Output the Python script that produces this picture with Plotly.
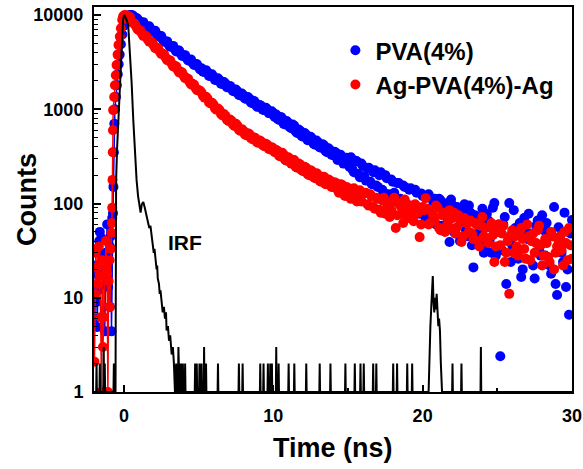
import plotly.graph_objects as go

# ---------------- data ----------------
# uniform TCSPC time channels of the decay part (ns): two interleaved channel sets
t_decay = [round(0.2 * k, 1) for k in range(1, 151)]          # 0.2 ... 30.0
t_extra = [round(0.1 + 0.2 * k, 1) for k in range(1, 150)]    # 0.3 ... 29.9

# PVA(4%) : before-pulse and rising edge
blue_pre_t = [-1.95, -1.9, -1.83, -1.83, -1.78, -1.72, -1.72, -1.65, -1.61, -1.5, -1.45, -1.35,
              -1.28, -1.2, -1.12, -1.05, -0.98, -0.94, -0.94, -0.88, -0.83, -0.78, -0.73,
              -0.70, -0.67, -0.64, -0.60, -0.53, -0.47, -0.41, -0.35, -0.28, -0.20, -0.10, 0.0, 0.1]
blue_pre_c = [6, 22, 18, 9, 4.9, 31, 12, 40, 50, 43, 28, 20,
              4.4, 30, 60, 13, 25, 35, 8, 45, 4.4, 70, 79,
              150, 350, 700, 1000, 1350, 1800, 2350, 3000, 3800, 4900, 6200, 7700, 9000]
# PVA(4%) : decay, channels t_decay
blue_decay = [9850, 10000, 9900, 9350, 8750,
              8300, 7800, 7550, 7050, 6800,
              6300, 6000, 5500, 5250, 4850,
              4650, 4350, 4200, 3900, 3750,
              3480, 3350, 3100, 3020, 2790,
              2720, 2490, 2460, 2250, 2230,
              2050, 2040, 1850, 1870, 1700,
              1700, 1540, 1550, 1400, 1410,
              1290, 1300, 1160, 1180, 1060,
              1080, 980, 1000, 900, 910,
              880, 770, 800, 690, 720,
              630, 670, 560, 590, 510,
              540, 470, 490, 420, 445,
              390, 415, 350, 370, 325,
              345, 295, 310, 270, 290,
              310, 215, 280, 190, 250,
              175, 240, 160, 225, 150,
              215, 130, 185, 120, 170,
              105, 165, 100, 150, 95,
              145, 82, 130, 78, 120,
              70, 125, 62, 112, 98,
              108, 52, 92, 39, 96,
              48, 88, 64, 98, 45,
              80, 21, 72, 40, 88,
              35, 66, 30, 101, 52,
              2.4, 60, 14, 101, 36,
              55, 26, 16.6, 70, 42,
              48, 22, 58, 32, 75,
              28, 50, 18, 92, 10.7,
              44, 24, 13, 6.6, 67]
# PVA(4%) : decay, channels t_extra
blue_extra = [9700, 10000, 9500, 9200, 8400,
              8400, 7400, 7600, 6700, 6800,
              5900, 6000, 5200, 5250, 4600,
              4700, 4100, 4200, 3680, 3750,
              3300, 3370, 2950, 3000, 2650,
              2500, 2600, 2250, 2350, 2050,
              2130, 1870, 1950, 1710, 1770,
              1560, 1620, 1420, 1470, 1300,
              1350, 1180, 1230, 1070, 1110,
              990, 1040, 910, 950, 830,
              790, 830, 700, 750, 650,
              690, 580, 610, 520, 560,
              470, 510, 430, 465, 395,
              425, 360, 385, 330, 355,
              290, 330, 265, 305, 245,
              230, 285, 205, 265, 195,
              235, 170, 215, 155, 200,
              140, 200, 125, 180, 130,
              165, 112, 155, 100, 140,
              92, 140, 85, 128, 80,
              118, 68, 105, 60, 112,
              58, 100, 66, 110, 50,
              92, 40, 85, 52, 95,
              36, 75, 48, 68, 30,
              78, 42, 90, 28, 60,
              32, 72, 40, 24, 85,
              30, 62, 20, 48, 78,
              40, 16, 66, 28, 52,
              62, 22, 45, 14, 56,
              30, 80, 20, 48]

# Ag-PVA(4%)-Ag : before-pulse and rising edge
red_pre_t = [-1.97, -1.92, -1.88, -1.83, -1.75, -1.68, -1.61, -1.55, -1.5, -1.45, -1.4, -1.35,
             -1.28, -1.2, -1.12, -1.07, -1.02, -0.96, -0.94, -0.88, -0.83, -0.80,
             -0.78, -0.76, -0.745, -0.73, -0.72, -0.65, -0.60, -0.54, -0.49, -0.42, -0.36,
             -0.27, -0.20, -0.11, -0.05, 0.05]
red_pre_c = [2.1, 11, 30, 21, 14, 35, 17, 6.2, 1, 25, 3, 6.2,
             21, 40, 18, 1, 15, 25, 8, 33, 49, 62,
             90, 178, 350, 600, 980, 1350, 1800, 2300, 2950, 3800, 4800,
             5900, 7250, 8900, 9700, 10000]
# Ag-PVA(4%)-Ag : decay, channels t_decay
red_decay = [9900, 9500, 8300, 7650, 6900,
             6400, 6050, 5500, 5200, 4750,
             4500, 4100, 3880, 3520, 3330,
             3050, 2900, 2620, 2500, 2270,
             2150, 1950, 1860, 1680, 1600,
             1500, 1330, 1300, 1150, 1120,
             990, 980, 860, 850, 750,
             760, 665, 670, 590, 590,
             530, 545, 480, 495, 440,
             455, 405, 420, 375, 385,
             370, 320, 345, 290, 310,
             265, 290, 240, 260, 220,
             240, 200, 220, 185, 200,
             170, 192, 160, 175, 150,
             165, 130, 158, 120, 145,
             112, 145, 105, 138, 125,
             130, 95, 118, 88, 112,
             80, 115, 90, 72, 105,
             55, 100, 78, 110, 70,
             95, 65, 88, 44, 92,
             114, 60, 82, 66, 90,
             52, 80, 58, 85, 70,
             48, 75, 39, 70, 62,
             66, 42, 60, 35, 72,
             55, 38, 62, 24, 50,
             36, 58, 30, 11, 52,
             45, 28, 55, 33, 60,
             25, 48, 38, 58, 22,
             42, 27, 50, 20, 35,
             45, 22, 38, 55, 26]
# Ag-PVA(4%)-Ag : decay, channels t_extra
red_extra = [9700, 8500, 8100, 7100, 6800,
             6000, 5950, 5200, 5100, 4450,
             4400, 3850, 3800, 3320, 3300,
             2850, 2850, 2450, 2450, 2130,
             2100, 1830, 1820, 1590, 1570,
             1380, 1360, 1180, 1170, 1020,
             1020, 890, 890, 775, 780,
             690, 700, 605, 615, 540,
             555, 495, 505, 450, 465,
             415, 430, 380, 395, 350,
             360, 315, 330, 285, 300,
             290, 245, 265, 225, 245,
             205, 225, 190, 210, 175,
             190, 160, 180, 150, 168,
             140, 160, 128, 150, 118,
             140, 112, 132, 105, 128,
             98, 125, 92, 115, 86,
             108, 78, 100, 85, 115,
             75, 95, 62, 92, 78,
             70, 98, 80, 60, 85,
             88, 62, 75, 95, 55,
             75, 50, 68, 55, 80,
             56, 68, 45, 62, 50,
             48, 62, 40, 58, 45,
             42, 56, 46, 35, 60,
             48, 24, 40, 46, 30,
             35, 50, 42, 26, 45,
             40, 30, 52, 36, 28,
             38, 24, 45, 30, 40,
             32, 50, 25, 36]

# IRF : main pulse
irf_pulse_t = [-0.56, -0.54, -0.53, -0.52, -0.45, -0.38, -0.3, -0.2, -0.1, -0.05, 0.02, 0.1, 0.18,
               0.29, 0.4, 0.52, 0.63, 0.75, 0.85, 0.95, 1.05, 1.12, 1.2, 1.3, 1.4, 1.52, 1.6,
               1.7, 1.78, 1.86, 1.95, 2.0, 2.05, 2.12, 2.19, 2.23, 2.27, 2.35, 2.4, 2.45, 2.53,
               2.6, 2.68, 2.75, 2.82, 2.86, 2.95, 3.02, 3.1, 3.2, 3.28, 3.35, 3.42, 3.5, 3.55]
irf_pulse_c = [1, 10, 60, 178, 400, 770, 1300, 2830, 6000, 9000, 10000, 9400, 8900,
               7800, 4260, 1900, 770, 330, 178, 120, 95, 80, 98, 104, 90, 75, 68,
               55, 58, 44, 38, 30, 33, 24, 20, 22, 16, 14, 11, 12, 9.5,
               7, 8, 6, 7, 4.5, 5, 3.5, 4, 2.5, 3, 2, 1, 2, 1]
# IRF : secondary bump near 21 ns
irf_bump_t = [20.4, 20.45, 20.52, 20.58, 20.63, 20.68, 20.73, 20.78, 20.83, 20.88, 20.94,
              21.0, 21.05, 21.1, 21.16, 21.22, 21.3]
irf_bump_c = [1, 3, 5, 8, 12, 17, 9, 7, 10, 7.5, 11, 8, 5, 6, 4.5, 2, 1]
# IRF : isolated single-channel counts
irf_spike_t = [-1.83, -1.61, -1.35, -1.28, -0.67, 3.65, 3.75, 3.85, 3.95, 4.1, 4.77, 4.88, 5.06,
               5.2, 5.37, 5.5, 6.3, 7.7, 7.95, 9.13, 9.35, 9.64, 9.8, 9.91, 10.2, 10.36, 11.03,
               11.41, 12.21, 13.11, 13.83, 14.83, 15.46, 15.84, 16.06, 16.69, 16.9, 18.03,
               18.29, 18.97, 19.3, 22.0, 22.6, 23.9]
irf_spike_c = [2, 2, 3, 2, 2, 3, 2, 2, 2, 2, 2, 2, 2,
               2, 3, 2, 2, 2, 2, 2, 2, 2, 2, 2, 3, 2, 2,
               2, 2, 2, 2, 2, 2, 2, 2, 2, 2, 2,
               2, 2, 2, 2, 2, 3]

x_ticks = [0, 10, 20, 30]
y_tickvals = [1, 10, 100, 1000, 10000]
y_ticktext = ["1", "10", "100", "1000", "10000"]

# ---------------- figure ----------------
BLUE = "#0000FF"
RED = "#FF0000"
FONT = "Liberation Sans, Arial, Helvetica, sans-serif"

blue_t = blue_pre_t + t_decay + t_extra
blue_c = blue_pre_c + blue_decay + blue_extra
red_t = red_pre_t + t_decay + t_extra
red_c = red_pre_c + red_decay + red_extra

# IRF line: pulse + bump + isolated counts on a baseline of 1
irf_pts = [(-2.0, 1), (30.0, 1)]
irf_pts += list(zip(irf_pulse_t, irf_pulse_c))
irf_pts += list(zip(irf_bump_t, irf_bump_c))
for t, c in zip(irf_spike_t, irf_spike_c):
    irf_pts += [(t - 0.025, 1), (t, c), (t + 0.025, 1)]
irf_pts.sort(key=lambda p: p[0])
irf_x = [p[0] for p in irf_pts]
irf_y = [p[1] for p in irf_pts]

fig = go.Figure()
fig.add_trace(go.Scatter(x=blue_pre_t, y=blue_pre_c, mode="lines",
                         line=dict(color=BLUE, width=1.5), showlegend=False, hoverinfo="skip"))
fig.add_trace(go.Scatter(x=blue_t, y=blue_c, mode="markers", name="PVA(4%)",
                         marker=dict(color=BLUE, size=10, line=dict(width=0))))
fig.add_trace(go.Scatter(x=red_pre_t, y=red_pre_c, mode="lines",
                         line=dict(color=RED, width=1.5), showlegend=False, hoverinfo="skip"))
fig.add_trace(go.Scatter(x=red_t, y=red_c, mode="markers", name="Ag-PVA(4%)-Ag",
                         marker=dict(color=RED, size=10, line=dict(width=0))))
fig.add_trace(go.Scatter(x=irf_x, y=irf_y, mode="lines", name="IRF",
                         line=dict(color="black", width=2), showlegend=False))

axis_font = dict(family=FONT, size=18, color="black", weight="bold")

fig.update_layout(
    width=583, height=469,
    margin=dict(l=94, r=11, t=7, b=77, autoexpand=False),
    paper_bgcolor="white", plot_bgcolor="white",
    font=dict(family=FONT, color="black", weight="bold"),
    showlegend=True,
    legend=dict(x=0.505, y=0.945, xanchor="left", yanchor="top",
                font=dict(family=FONT, size=24, color="black", weight="bold"),
                bgcolor="rgba(0,0,0,0)", borderwidth=0, tracegroupgap=0),
    xaxis=dict(range=[-2, 30], tickvals=x_ticks, ticks="inside", ticklen=7, tickwidth=1.5,
               tickcolor="black", showline=True, linecolor="black", linewidth=2, mirror=True,
               showgrid=False, zeroline=False, tickfont=axis_font, ticklabelstandoff=6,
               automargin=False,
               minor=dict(ticks="inside", ticklen=4, tickwidth=1.5, tickcolor="black",
                          dtick=5, showgrid=False)),
    yaxis=dict(type="log", range=[0, 4.085], tickvals=y_tickvals, ticktext=y_ticktext,
               ticks="inside", ticklen=7, tickwidth=1.5, tickcolor="black",
               showline=True, linecolor="black", linewidth=2, mirror=True,
               showgrid=False, zeroline=False, tickfont=axis_font, ticklabelstandoff=5,
               automargin=False,
               minor=dict(ticks="inside", ticklen=4, tickwidth=1.2, tickcolor="black",
                          dtick="D1", showgrid=False)),
    annotations=[
        dict(text="Counts", xref="paper", yref="paper", x=-0.140, y=0.499, textangle=-90,
             showarrow=False, xanchor="center", yanchor="middle",
             font=dict(family=FONT, size=27, color="black", weight="bold")),
        dict(text="Time (ns)", xref="paper", yref="paper", x=0.5, y=-0.1455,
             showarrow=False, xanchor="center", yanchor="middle",
             font=dict(family=FONT, size=27, color="black", weight="bold")),
        dict(text="IRF", xref="x", yref="y", x=4.1, y=1.59, showarrow=False,
             xanchor="center", yanchor="middle",
             font=dict(family=FONT, size=21, color="black", weight="bold")),
    ],
)

fig.write_html("out.html")
